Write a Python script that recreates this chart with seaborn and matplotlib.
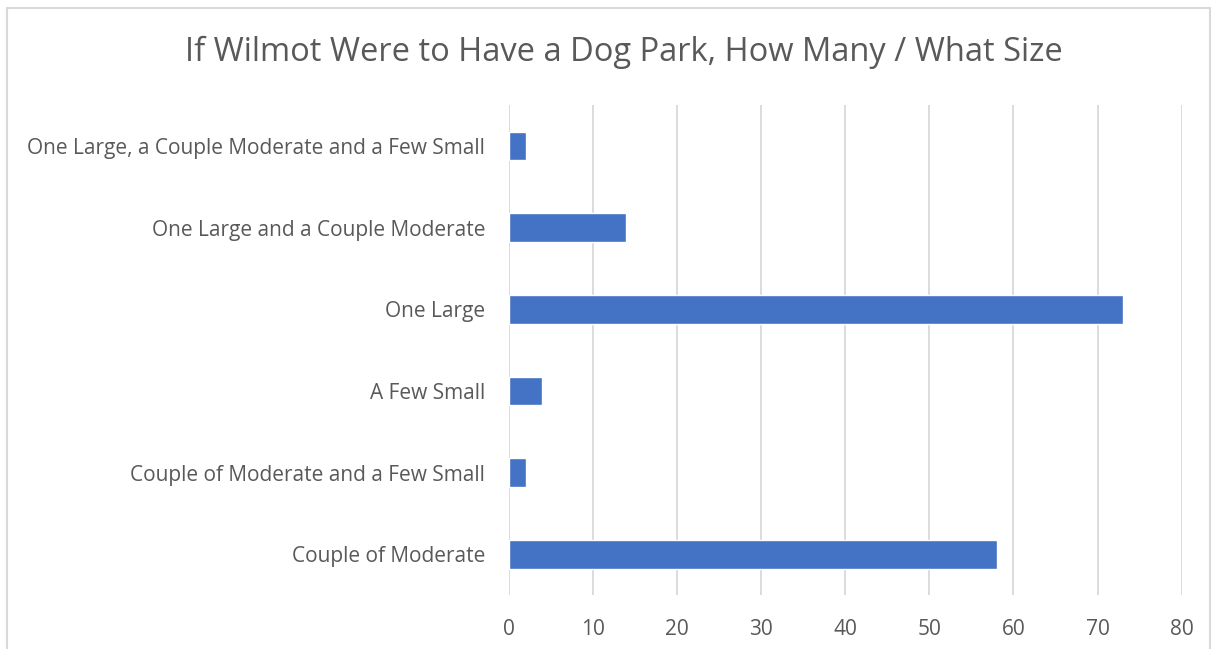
import pandas as pd
import seaborn as sns
import matplotlib.pyplot as plt
from matplotlib.patches import Rectangle

# Kategoriler ve cevap sayilari (yukaridan asagiya)
secenekler = [
    "One Large, a Couple Moderate and a Few Small",
    "One Large and a Couple Moderate",
    "One Large",
    "A Few Small",
    "Couple of Moderate and a Few Small",
    "Couple of Moderate",
]
sayilar = [2, 14, 73, 4, 2, 58]
x_ticks = [0, 10, 20, 30, 40, 50, 60, 70, 80]

veri = pd.DataFrame({"secenek": secenekler, "sayi": sayilar})

sns.set_style("white")
plt.rcParams["font.family"] = ["Open Sans", "DejaVu Sans"]

fig = plt.figure(figsize=(12.17, 6.49), dpi=100)
ax = fig.add_axes([0.418, 0.083, 0.553, 0.755])

sns.barplot(data=veri, x="sayi", y="secenek", orient="h", color="#4472C4",
            saturation=1, width=0.35, ax=ax)

ax.set_xlim(0, 80)
ax.set_ylim(5.5, -0.5)
ax.set_xticks(x_ticks)
ax.grid(axis="x", color="#D9D9D9", linewidth=1.3)
ax.set_axisbelow(True)
for s in ax.spines.values():
    s.set_visible(False)
ax.tick_params(axis="both", length=0, labelsize=15, labelcolor="#595959")
ax.tick_params(axis="y", pad=17)
ax.tick_params(axis="x", pad=17)
ax.set_xlabel("")
ax.set_ylabel("")

fig.suptitle("If Wilmot Were to Have a Dog Park, How Many / What Size",
             x=0.513, y=0.945, fontsize=23.5, color="#595959")

# cerceve
fig.patches.append(Rectangle((0.006, -0.02), 0.988, 1.007, transform=fig.transFigure,
                             fill=False, edgecolor="#D9D9D9", linewidth=1.5))

fig.savefig("out.png", dpi=100)
